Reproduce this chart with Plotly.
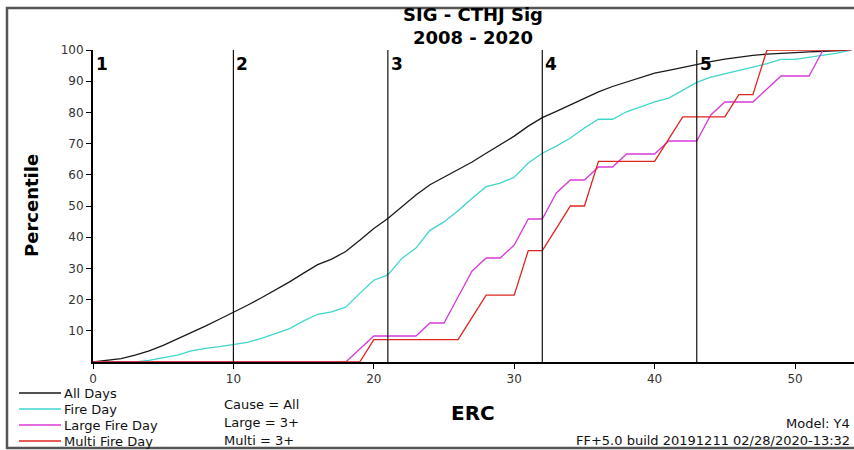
import plotly.graph_objects as go

# ERC values (x) and cumulative percentiles for each day class
erc = list(range(0, 55))

all_days = [0, 0.5, 1.1, 2.2, 3.6, 5.3, 7.3, 9.4, 11.5, 13.7,
            15.9, 18.2, 20.6, 23.1, 25.7, 28.5, 31.2, 33.0, 35.4, 39.0,
            42.8, 46.0, 49.8, 53.5, 56.8, 59.3, 61.6, 64.1, 66.9, 69.6,
            72.4, 75.6, 78.3, 80.3, 82.4, 84.7, 86.6, 88.3, 89.8, 91.3,
            92.6, 93.5, 94.5, 95.4, 96.3, 97.1, 97.8, 98.3, 98.7, 99.0,
            99.2, 99.4, 99.6, 99.8, 100]

fire_day = [0, 0, 0, 0, 0.5, 1.3, 2.2, 3.6, 4.4, 4.9,
            5.6, 6.3, 7.6, 9.2, 10.7, 13.2, 15.3, 16.1, 17.6, 22.0,
            26.2, 27.9, 33.2, 36.5, 42.2, 44.9, 48.5, 52.5, 56.2, 57.3,
            59.2, 63.8, 66.9, 69.2, 71.8, 75.0, 77.8, 77.8, 80.2, 81.8,
            83.4, 84.6, 87.2, 89.6, 91.3, 92.3, 93.5, 94.5, 95.6, 97.0,
            97.0, 97.7, 98.4, 99.0, 100]

erc_large = list(range(0, 53))
large_fire_day = [0] * 19 + [
    4.17, 8.33, 8.33, 8.33, 8.33, 12.5, 12.5, 20.83, 29.17, 33.33,
    33.33, 37.5, 45.83, 45.83, 54.17, 58.33, 58.33, 62.5, 62.5, 66.67,
    66.67, 66.67, 70.83, 70.83, 70.83, 79.17, 83.33, 83.33, 83.33, 87.5,
    91.67, 91.67, 91.67, 100]

multi_fire_day = [0] * 20 + [
    7.14, 7.14, 7.14, 7.14, 7.14, 7.14, 7.14, 14.29, 21.43, 21.43,
    21.43, 35.71, 35.71, 42.86, 50.0, 50.0, 64.29, 64.29, 64.29, 64.29,
    64.29, 71.43, 78.57, 78.57, 78.57, 78.57, 85.71, 85.71, 100, 100,
    100, 100, 100, 100, 100]

# Class break ERC values and their labels
breaks = [0, 10, 21, 32, 43]
break_labels = ["1", "2", "3", "4", "5"]

y_ticks = [10, 20, 30, 40, 50, 60, 70, 80, 90, 100]
x_ticks = [0, 10, 20, 30, 40, 50]

title_lines = ["SIG - CTHJ Sig", "2008 - 2020"]
filter_notes = ["Cause = All", "Large = 3+", "Multi = 3+"]
model_note = "Model: Y4"
build_note = "FF+5.0 build 20191211 02/28/2020-13:32"

series = [
    ("All Days", erc, all_days, "#1a1a1a"),
    ("Fire Day", erc, fire_day, "#3fd6cc"),
    ("Large Fire Day", erc_large, large_fire_day, "#d83ad8"),
    ("Multi Fire Day", erc, multi_fire_day, "#e0241e"),
]

W, H = 854, 450
L, R, T, B = 93, 0, 50, 88
PW, PH = W - L - R, H - T - B
FONT = "DejaVu Sans, Arial, sans-serif"


def px(x):
    return (x - L) / PW


def py(y):
    return (H - B - y) / PH


fig = go.Figure()
for name, xs, ys, color in series:
    fig.add_trace(go.Scatter(x=xs, y=ys, mode="lines", name=name,
                             line=dict(color=color, width=1.3),
                             showlegend=False, hoverinfo="x+y+name"))

shapes = []
annotations = []

# Vertical class break lines with their numbers
for b, lab in zip(breaks, break_labels):
    if b > 0:
        shapes.append(dict(type="line", xref="x", yref="y", x0=b, x1=b,
                           y0=0, y1=100, line=dict(color="#111", width=1.2),
                           layer="above"))
    annotations.append(dict(x=b, y=100, xref="x", yref="y",
                            text="<b>%s</b>" % lab, showarrow=False,
                            xanchor="left", yanchor="top", xshift=1, yshift=-2,
                            font=dict(family=FONT, size=17, color="#000")))

# Two-line title
annotations.append(dict(xref="paper", yref="paper", x=px(473), y=py(26),
                        text="<b>%s</b>" % "<br>".join(title_lines),
                        showarrow=False, xanchor="center", yanchor="middle",
                        align="center",
                        font=dict(family=FONT, size=18, color="#000")))

# Axis titles
annotations.append(dict(xref="paper", yref="paper", x=px(31), y=py(206),
                        text="<b>Percentile</b>", showarrow=False,
                        textangle=-90, xanchor="center", yanchor="middle",
                        font=dict(family=FONT, size=18, color="#000")))
annotations.append(dict(xref="paper", yref="paper", x=px(473), y=py(413),
                        text="<b>ERC</b>", showarrow=False,
                        xanchor="center", yanchor="middle",
                        font=dict(family=FONT, size=20, color="#000")))

# Legend drawn in the lower-left margin
for (name, _, _, color), ly in zip(series, [393, 409, 425, 441]):
    shapes.append(dict(type="line", xref="paper", yref="paper",
                       x0=px(19), x1=px(61), y0=py(ly), y1=py(ly),
                       line=dict(color=color, width=1.3)))
    annotations.append(dict(xref="paper", yref="paper", x=px(62), y=py(ly),
                            text=name, showarrow=False, xanchor="left",
                            yanchor="middle",
                            font=dict(family=FONT, size=13, color="#111")))

# Filter notes
for text, ny in zip(filter_notes, [404, 422, 440]):
    annotations.append(dict(xref="paper", yref="paper", x=px(222), y=py(ny),
                            text=text, showarrow=False, xanchor="left",
                            yanchor="middle",
                            font=dict(family=FONT, size=13, color="#111")))

for text, ny in zip([model_note, build_note], [423, 440]):
    annotations.append(dict(xref="paper", yref="paper", x=px(852), y=py(ny),
                            text=text, showarrow=False, xanchor="right",
                            yanchor="middle",
                            font=dict(family=FONT, size=13, color="#111")))

# Outer frame
shapes.append(dict(type="rect", xref="paper", yref="paper",
                   x0=px(7), x1=px(856), y0=py(448), y1=py(8),
                   line=dict(color="#555", width=2.5)))

tick_font = dict(family=FONT, size=12, color="#333")
fig.update_layout(
    width=W, height=H,
    margin=dict(l=L, r=R, t=T, b=B, pad=0),
    paper_bgcolor="white", plot_bgcolor="white",
    shapes=shapes, annotations=annotations,
    showlegend=False,
    xaxis=dict(range=[0, 54.2], tickvals=x_ticks,
               ticktext=[str(v) for v in x_ticks],
               showgrid=False, zeroline=False,
               showline=True, linecolor="#000", linewidth=2,
               ticks="outside", ticklen=5, tickwidth=1.2, tickcolor="#000",
               tickfont=tick_font),
    yaxis=dict(range=[0, 100], tickvals=y_ticks,
               ticktext=[str(v) for v in y_ticks],
               showgrid=False, zeroline=False,
               showline=True, linecolor="#000", linewidth=2,
               ticks="outside", ticklen=5, tickwidth=1.2, tickcolor="#000",
               tickfont=tick_font),
)

fig.write_html("out.html", config={"displayModeBar": False})
